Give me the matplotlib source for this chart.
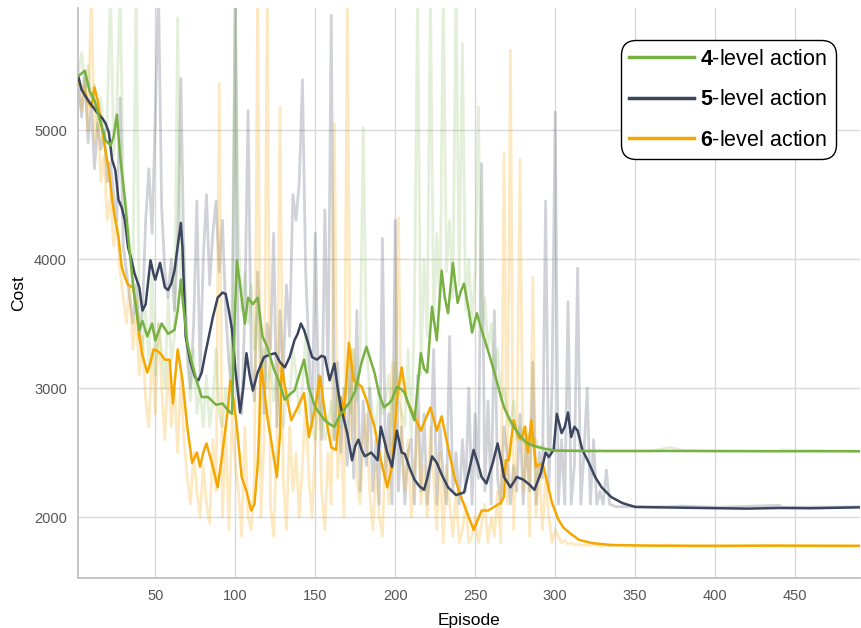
import numpy as np
import matplotlib.pyplot as plt

plt.rcParams['font.family'] = ['Liberation Sans', 'DejaVu Sans']
plt.rcParams['mathtext.fontset'] = 'custom'
plt.rcParams['mathtext.bf'] = 'Liberation Sans:bold'
plt.rcParams['mathtext.rm'] = 'Liberation Sans'

# raw episode costs (faint traces), sampled every 2 episodes, then the flat tail
raw_ep = list(range(2, 342, 2)) + [360, 372, 380, 400, 440, 442, 490]

raw_4 = [5450, 5600, 5300, 5500, 5200, 5350, 5000, 5250, 4900, 5100,
         6100, 4800, 5200, 6100, 4600, 4400, 4100, 3800, 6100, 3500,
         3300, 3600, 3200, 3900, 3100, 3500, 3300, 3000, 3700, 3200,
         3400, 5870, 3800, 4100, 3200, 2900, 3300, 2800, 3000, 2700,
         3100, 2700, 2900, 3300, 2800, 2700, 3000, 2800, 3600, 6100,
         4200, 3600, 3900, 3500, 3800, 3300, 3600, 3100, 3300, 3000,
         3200, 2900, 3100, 2800, 2700, 3000, 2900, 3300, 3100, 2800,
         3000, 3400, 2900, 2700, 2600, 3100, 2800, 2600, 2700, 2900,
         2600, 3000, 2700, 2900, 3100, 2800, 3300, 2900, 3200, 5020,
         3300, 3000, 2800, 2700, 3000, 2800, 2900, 3100, 2700, 3200,
         2900, 2800, 2700, 3300, 2600, 3600, 6100, 3100, 4000, 3400,
         6100, 3500, 4200, 3600, 6100, 3900, 4300, 3700, 6100, 3800,
         5670, 3600, 4000, 3500, 3900, 5180, 3400, 3700, 3300, 3500,
         3100, 3300, 2900, 3000, 2800, 2700, 2900, 2600, 2700, 2600,
         2550, 2650, 2550, 2600, 2520, 2560, 2510, 2530, 2510, 2520,
         2510, 2515, 2510, 2510, 2520, 2510, 2510, 2515, 2510, 2510,
         2510, 2512, 2510, 2518, 2510, 2510, 2512, 2510, 2510, 2510,
         2510, 2540, 2515, 2510, 2512, 2520, 2510]

raw_5 = [5380, 5100, 5450, 4900, 5200, 4700, 5050, 4850, 5000, 4600,
         4750, 4500, 4300, 5250, 4100, 3900, 3700, 3500, 3800, 3400,
         3600, 4300, 4700, 4200, 5100, 6100, 4400, 3900, 3700, 4000,
         3600, 4100, 5400, 3900, 3300, 3000, 3500, 4450, 3100, 4000,
         4500, 3800, 4200, 4450, 3900, 4300, 3600, 3200, 3000, 6100,
         3000, 2800, 3600, 5150, 3200, 2900, 3900, 3400, 2800, 3500,
         3300, 4200, 2700, 3600, 3100, 3800, 3400, 4500, 4300, 4600,
         5390, 3900, 3300, 2700, 4200, 3000, 2600, 4380, 3100, 5890,
         2600, 3200, 2500, 3000, 2400, 3300, 2300, 3600, 2200, 2900,
         2400, 3000, 2200, 2600, 2100, 4160, 2300, 2800, 2100, 4300,
         2200, 2700, 2100, 2500, 2600, 2100, 3100, 2200, 2800, 2100,
         2400, 3300, 2100, 2700, 2300, 2100, 3400, 2200, 2500, 2100,
         2600, 2200, 3000, 2100, 2800, 2300, 4740, 2200, 2900, 2100,
         3600, 2300, 2100, 2700, 2500, 2100, 2400, 2200, 2800, 2100,
         2600, 2200, 3200, 2100, 2500, 2300, 4450, 2200, 3000, 5140,
         2100, 2600, 2100, 3670, 2100, 2400, 3930, 2100, 2500, 3000,
         2100, 2600, 2100, 2200, 2100, 2365, 2100, 2090, 2080, 2080,
         2078, 2080, 2085, 2075, 2090, 2075, 2078]

raw_6 = [5300, 5150, 5400, 5000, 6100, 4900, 5100, 4600, 4800, 4300,
         4500, 4100, 4300, 3900, 3700, 3500, 3800, 3300, 3600, 3100,
         3400, 2900, 2700, 3300, 2800, 3500, 3000, 2600, 3200, 2700,
         3000, 2500, 3100, 2600, 2300, 2100, 2500, 2200, 2000, 2400,
         2100, 1950, 2600, 2200, 5360, 2000, 2700, 1900, 2800, 2400,
         2200, 1850, 2700, 2000, 1900, 2300, 6100, 2000, 2600, 6100,
         2100, 1850, 2600, 5180, 2300, 1900, 2700, 2200, 2500, 2000,
         2400, 2900, 2300, 2000, 2600, 3100, 2200, 1900, 2500, 2100,
         5050, 2300, 2700, 2000, 6100, 2600, 3300, 2300, 2100, 2600,
         2800, 2200, 1900, 2400, 2000, 1850, 2600, 2100, 3200, 2700,
         4320, 2500, 2200, 2600, 2000, 2300, 2800, 2100, 2400, 2000,
         2700, 2300, 1900, 2500, 1800, 2400, 2100, 1850, 2200, 1800,
         1900, 2100, 1800, 1850, 2000, 1800, 1950, 2100, 1800, 2000,
         1850, 2200, 1800, 4820, 2100, 5620, 1900, 2600, 4770, 2200,
         2700, 1850, 3860, 2000, 2400, 1900, 2300, 2000, 1800, 1900,
         1850, 1800, 1820, 1790, 1800, 1785, 1790, 1780, 1785, 1780,
         1780, 1790, 1780, 1775, 1780, 1780, 1775, 1780, 1780, 1780,
         1778, 1782, 1776, 1778, 1780, 1776, 1778]

# smoothed curves
ep_4 = [2, 6, 9, 12, 16, 19, 22, 24, 26, 28, 31, 34, 37, 40, 42, 45, 48, 50, 54, 58,
        62, 64, 66, 67, 70, 73, 76, 79, 83, 88, 92, 96, 98, 99, 101, 103, 106, 108, 111, 114,
        117, 120, 124, 127, 131, 134, 137, 140, 143, 146, 150, 153, 156, 159, 162, 165, 168, 172, 175, 179,
        182, 185, 187, 190, 193, 196, 198, 201, 204, 206, 209, 212, 214, 216, 218, 220, 223, 226, 229, 231,
        233, 236, 239, 241, 243, 246, 248, 251, 254, 256, 259, 262, 265, 268, 271, 274, 278, 282, 287, 293,
        300, 320, 380, 440, 490]
cost_4 = [5420, 5460, 5300, 5230, 5050, 4920, 4880, 4950, 5120, 4800, 4460, 4050, 3700, 3450, 3520, 3400, 3500, 3370, 3500, 3420,
          3450, 3600, 3840, 3700, 3350, 3190, 3050, 2930, 2930, 2870, 2880, 2820, 2800, 3300, 3990, 3800, 3500, 3700, 3650, 3700,
          3400, 3320, 3150, 3060, 2910, 2950, 2980, 3100, 3220, 3000, 2850, 2800, 2750, 2720, 2700, 2780, 2830, 2900, 2980, 3200,
          3320, 3200, 3120, 2950, 2850, 2880, 2910, 3010, 2990, 2960, 2850, 2750, 3000, 3270, 3150, 3120, 3630, 3370, 3910, 3700,
          3580, 3970, 3660, 3750, 3810, 3600, 3430, 3580, 3450, 3370, 3250, 3120, 2980, 2850, 2770, 2700, 2630, 2575, 2550, 2530,
          2515, 2512, 2512, 2510, 2510]

ep_5 = [2, 4, 8, 11, 14, 17, 19, 21, 23, 25, 27, 29, 31, 33, 35, 37, 40, 42, 44, 47,
        49, 50, 53, 56, 58, 60, 62, 64, 66, 67, 69, 72, 75, 77, 79, 81, 83, 86, 89, 92,
        94, 96, 98, 100, 102, 103, 105, 107, 109, 111, 114, 118, 122, 125, 128, 131, 134, 137, 139, 141,
        143, 145, 148, 151, 154, 156, 159, 162, 164, 166, 168, 170, 173, 175, 177, 179, 181, 185, 189, 191,
        193, 195, 198, 201, 204, 206, 209, 212, 215, 218, 220, 223, 226, 229, 233, 238, 243, 246, 249, 252,
        254, 257, 261, 264, 266, 268, 272, 276, 280, 284, 287, 291, 294, 296, 299, 301, 304, 306, 308, 310,
        312, 314, 317, 321, 325, 329, 335, 342, 350, 380, 420, 440, 460, 490]
cost_5 = [5410, 5310, 5230, 5180, 5130, 5090, 5050, 4980, 4770, 4690, 4460, 4400, 4300, 4090, 4000, 3890, 3780, 3600, 3650, 3990,
          3880, 3840, 3970, 3780, 3760, 3810, 3910, 4100, 4280, 4090, 3400, 3200, 3080, 3060, 3120, 3250, 3370, 3550, 3700, 3740,
          3730, 3600, 3450, 3150, 2930, 2810, 3000, 3270, 3100, 2980, 3120, 3240, 3260, 3270, 3200, 3160, 3240, 3370, 3420, 3500,
          3450, 3370, 3240, 3220, 3250, 3240, 3060, 3190, 3000, 2850, 2750, 2650, 2440, 2550, 2600, 2520, 2470, 2500, 2440, 2700,
          2600, 2500, 2390, 2670, 2500, 2490, 2380, 2290, 2240, 2210, 2300, 2470, 2420, 2330, 2230, 2170, 2190, 2350, 2520, 2400,
          2310, 2260, 2420, 2570, 2450, 2310, 2230, 2310, 2290, 2250, 2210, 2340, 2500, 2465, 2520, 2800, 2650, 2700, 2810, 2620,
          2700, 2670, 2520, 2420, 2310, 2230, 2155, 2108, 2078, 2072, 2065, 2070, 2068, 2075]

ep_6 = [2, 4, 6, 8, 10, 12, 14, 17, 19, 21, 23, 25, 27, 29, 31, 33, 36, 38, 40, 42,
        45, 47, 49, 51, 53, 56, 59, 61, 64, 67, 70, 73, 76, 78, 80, 82, 84, 86, 89, 92,
        95, 97, 99, 101, 104, 107, 110, 112, 114, 115, 116, 118, 120, 123, 126, 128, 129, 131, 135, 139,
        143, 146, 150, 153, 156, 160, 163, 166, 168, 171, 174, 179, 182, 187, 191, 195, 198, 201, 204, 207,
        212, 216, 222, 226, 229, 232, 237, 241, 245, 249, 254, 258, 262, 266, 268, 269, 271, 274, 277, 279,
        281, 283, 285, 288, 292, 295, 298, 302, 305, 309, 315, 323, 335, 360, 400, 440, 490]
cost_6 = [5380, 5320, 5290, 5220, 5180, 5330, 5230, 4980, 4830, 4690, 4460, 4300, 4170, 3940, 3860, 3800, 3780, 3650, 3400, 3250,
          3120, 3200, 3300, 3290, 3270, 3220, 3220, 2880, 3300, 3060, 2700, 2420, 2500, 2390, 2500, 2570, 2480, 2390, 2230, 2500,
          2800, 3060, 2900, 2700, 2310, 2200, 2050, 2100, 2400, 2700, 3190, 3000, 2780, 2550, 2310, 2650, 3190, 3010, 2750, 2850,
          2960, 2620, 2850, 3090, 2810, 2540, 2520, 2930, 2780, 3350, 3060, 3010, 2910, 2700, 2440, 2230, 2390, 2910, 3160, 2910,
          2780, 2670, 2850, 2670, 2780, 2600, 2310, 2160, 2030, 1900, 2050, 2050, 2080, 2110, 2160, 2440, 2440, 2750, 2620, 2600,
          2700, 2500, 2750, 2390, 2420, 2270, 2110, 1980, 1920, 1876, 1822, 1798, 1783, 1778, 1776, 1778, 1776]

c_green = '#78b143'
c_navy = '#3b465e'
c_orange = '#f5a700'

fig = plt.figure(figsize=(8.61, 6.28), dpi=100)
ax = fig.add_axes([0.0906, 0.0796, 0.908, 0.9076])

ax.plot(raw_ep, raw_5, color=c_navy, alpha=0.24, lw=2.0, zorder=1)
ax.plot(raw_ep, raw_6, color=c_orange, alpha=0.24, lw=2.0, zorder=1)
ax.plot(raw_ep, raw_4, color=c_green, alpha=0.2, lw=2.0, zorder=1)

ax.plot(ep_6, cost_6, color=c_orange, lw=1.8, zorder=3, label=r'$\mathbf{6}$-level action')
ax.plot(ep_5, cost_5, color=c_navy, lw=1.8, zorder=3, label=r'$\mathbf{5}$-level action')
ax.plot(ep_4, cost_4, color=c_green, lw=1.8, zorder=4, label=r'$\mathbf{4}$-level action')

ax.set_xlim(1.7, 490.4)
ax.set_ylim(1527, 5946)
ax.set_xticks([50, 100, 150, 200, 250, 300, 350, 400, 450])
ax.set_yticks([2000, 3000, 4000, 5000])
ax.grid(True, color='#d9d9d9', lw=1)
ax.set_axisbelow(True)
ax.tick_params(length=0, labelsize=10.5, labelcolor='#555555', pad=8)
for s in ['top', 'right']:
    ax.spines[s].set_visible(False)
for s in ['left', 'bottom']:
    ax.spines[s].set_color('#bbbbbb')
    ax.spines[s].set_linewidth(1.2)

ax.set_xlabel('Episode', fontsize=12.5, labelpad=7)
ax.set_ylabel('Cost', fontsize=12.5, labelpad=6)

h, l = ax.get_legend_handles_labels()
leg = ax.legend(h[::-1], l[::-1], loc='upper right', bbox_to_anchor=(0.971, 0.936),
                bbox_transform=fig.transFigure, fontsize=15.5, handlelength=3,
                handletextpad=0.3, labelspacing=0.9, borderpad=0.4, borderaxespad=0,
                fancybox=True, framealpha=1, edgecolor='black')
leg.get_frame().set_linewidth(1.0)
leg.get_frame().set_boxstyle('round', pad=0, rounding_size=0.7)
for line in leg.get_lines():
    line.set_linewidth(2.5)

fig.savefig('out.png', dpi=100)
